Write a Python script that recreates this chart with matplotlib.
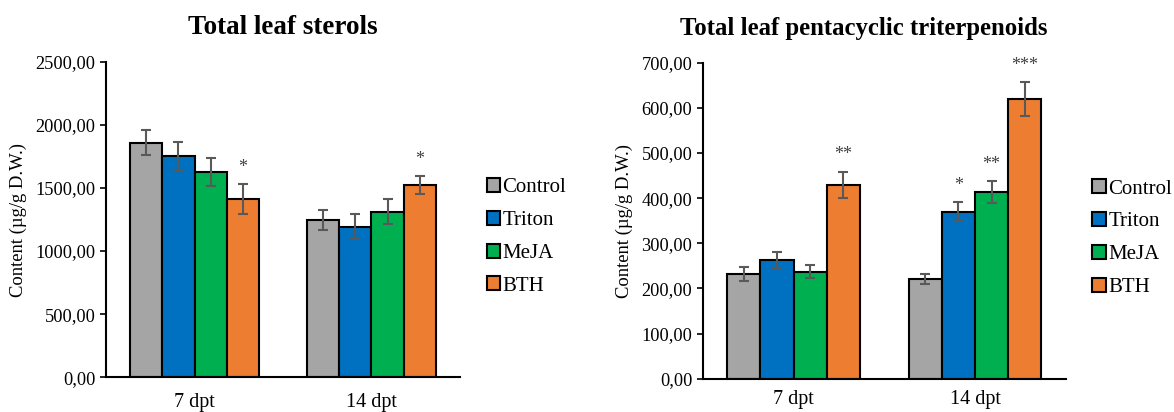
import numpy as np
import matplotlib.pyplot as plt
from matplotlib.ticker import FuncFormatter

plt.rcParams['font.family'] = 'Liberation Serif'

groups = ['7 dpt', '14 dpt']
treatments = ['Control', 'Triton', 'MeJA', 'BTH']
colors = ['#A5A5A5', '#0070C0', '#00B050', '#ED7D31']

# total leaf sterols (µg/g D.W.)
sterols = [[1860, 1245], [1750, 1192], [1625, 1311], [1410, 1523]]
sterols_err = [[97, 80], [115, 100], [113, 100], [120, 73]]
sterols_sig = [['', ''], ['', ''], ['', ''], ['*', '*']]

# total leaf pentacyclic triterpenoids (µg/g D.W.)
triterp = [[232, 221], [263, 370], [237, 413], [430, 620]]
triterp_err = [[15, 12], [17, 21], [15, 24], [29, 37]]
triterp_sig = [['', ''], ['', '*'], ['', '**'], ['**', '***']]

fmt = FuncFormatter(lambda v, p: f'{v:.2f}'.replace('.', ','))

fig = plt.figure(figsize=(11.74, 4.12), dpi=100)
ax1 = fig.add_axes([0.0903, 0.0842, 0.3015, 0.766])
ax2 = fig.add_axes([0.5986, 0.0808, 0.3092, 0.767])


def draw(ax, vals, errs, sigs, ymax, step, title, tsize, tx, xpad):
    x = np.arange(len(groups))
    w = 0.182
    for i, name in enumerate(treatments):
        pos = x + (i - 1.5) * w
        ax.bar(pos, vals[i], w, color=colors[i], edgecolor='black',
               linewidth=1.5, label=name, zorder=2)
        ax.errorbar(pos, vals[i], yerr=errs[i], fmt='none', ecolor='#595959',
                    elinewidth=1.5, capsize=3.5, capthick=1.5, zorder=3)
        for j in range(len(groups)):
            if sigs[i][j]:
                ax.annotate(sigs[i][j], (pos[j], vals[i][j] + errs[i][j]),
                            xytext=(0, 6), textcoords='offset points',
                            ha='center', va='bottom', fontsize=13,
                            color='#404040')
    ax.set_xlim(-0.5, 1.5)
    ax.set_ylim(0, ymax)
    ax.set_yticks(np.arange(0, ymax + 1, step))
    ax.yaxis.set_major_formatter(fmt)
    ax.set_xticks(x)
    ax.set_xticklabels(groups, fontsize=14.5)
    ax.tick_params(axis='x', length=0, pad=xpad)
    ax.tick_params(axis='y', labelsize=13.2, direction='out', length=4,
                   width=1.2)
    for s in ['top', 'right']:
        ax.spines[s].set_visible(False)
    for s in ['left', 'bottom']:
        ax.spines[s].set_linewidth(1.5)
    ax.set_ylabel('Content (µg/g D.W.)', fontsize=13.4, labelpad=6)
    ax.set_title(title, fontsize=tsize, fontweight='bold', pad=20, x=tx)
    ax.legend(loc='center left', bbox_to_anchor=(1.022, 0.445),
              frameon=False, fontsize=15, handlelength=0.65,
              handleheight=0.65, handletextpad=0.12, labelspacing=0.65)


draw(ax1, sterols, sterols_err, sterols_sig, 2500, 500,
     'Total leaf sterols', 19.5, 0.5, 11)
draw(ax2, triterp, triterp_err, triterp_sig, 700, 100,
     'Total leaf pentacyclic triterpenoids', 17.8, 0.443, 8)

fig.savefig('out.png', dpi=100)
